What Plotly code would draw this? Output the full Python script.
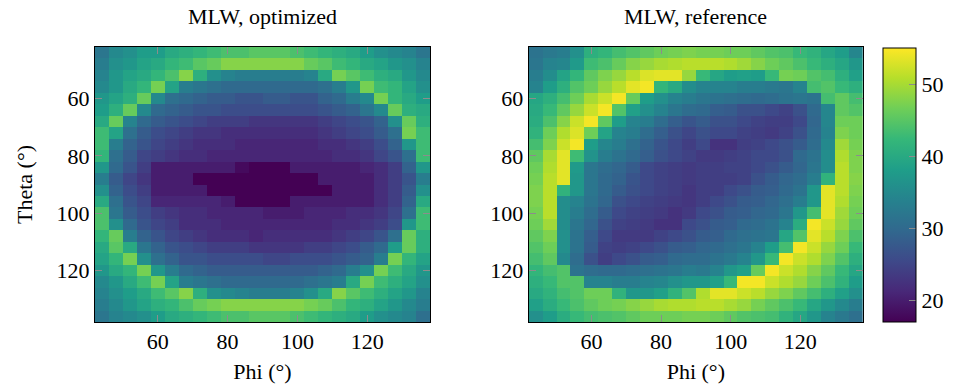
import plotly.graph_objects as go

# Cell centres (degrees)
phi = [44, 48, 52, 56, 60, 64, 68, 72, 76, 80, 84, 88,
       92, 96, 100, 104, 108, 112, 116, 120, 124, 128, 132, 136]
theta = [44, 48, 52, 56, 60, 64, 68, 72, 76, 80, 84, 88,
         92, 96, 100, 104, 108, 112, 116, 120, 124, 128, 132, 136]

tick_vals = [60, 80, 100, 120]
cbar_ticks = [20, 30, 40, 50]

# MLW for the optimized configuration (rows follow theta, columns follow phi)
mlw_optimized = [
    [32, 35, 36, 38, 38, 40, 41, 42, 43, 44, 44, 45, 45, 45, 44, 43, 42, 41, 40, 38, 36, 35, 34, 32],
    [33, 36, 37, 39, 40, 42, 43, 45, 46, 48, 48, 48, 48, 48, 48, 46, 45, 43, 42, 40, 39, 37, 36, 34],
    [34, 37, 39, 40, 42, 44, 48, 41, 36, 34, 33, 33, 33, 33, 33, 34, 40, 47, 45, 43, 41, 40, 37, 35],
    [35, 37, 40, 42, 47, 39, 33, 32, 31, 30, 30, 30, 30, 30, 30, 30, 31, 33, 37, 47, 43, 42, 39, 36],
    [37, 39, 41, 46, 35, 31, 30, 29, 28, 28, 27, 27, 28, 28, 27, 27, 29, 30, 33, 35, 47, 42, 40, 38],
    [38, 41, 46, 35, 30, 29, 28, 27, 27, 26, 26, 26, 26, 26, 26, 26, 27, 28, 29, 32, 35, 46, 41, 40],
    [40, 46, 34, 30, 28, 27, 26, 25, 24, 24, 24, 23, 23, 23, 23, 23, 24, 25, 26, 27, 29, 36, 46, 41],
    [43, 39, 31, 28, 26, 25, 24, 23, 23, 22, 22, 22, 22, 22, 22, 22, 23, 24, 25, 26, 28, 31, 47, 43],
    [43, 33, 29, 27, 25, 24, 23, 22, 22, 22, 21, 21, 21, 21, 21, 21, 22, 22, 23, 24, 26, 29, 37, 43],
    [42, 31, 28, 25, 24, 23, 22, 22, 21, 21, 21, 21, 21, 21, 21, 21, 21, 22, 22, 23, 25, 27, 31, 43],
    [37, 30, 27, 24, 20, 20, 20, 20, 20, 20, 18, 17, 17, 17, 20, 20, 20, 20, 20, 21, 22, 24, 29, 37],
    [33, 28, 25, 23, 20, 20, 20, 17, 17, 17, 17, 17, 17, 17, 17, 17, 20, 20, 20, 20, 22, 24, 27, 33],
    [36, 29, 26, 24, 20, 20, 20, 20, 17, 17, 17, 17, 17, 17, 17, 17, 17, 20, 20, 20, 22, 24, 28, 36],
    [40, 31, 27, 25, 21, 21, 21, 21, 21, 20, 17, 17, 17, 17, 20, 20, 20, 20, 20, 20, 22, 24, 29, 40],
    [44, 32, 28, 26, 24, 23, 22, 22, 21, 21, 21, 21, 20, 20, 20, 21, 21, 21, 22, 22, 23, 25, 31, 43],
    [44, 36, 30, 27, 25, 24, 22, 22, 22, 21, 21, 21, 21, 21, 21, 21, 21, 22, 22, 23, 24, 26, 37, 43],
    [42, 46, 33, 29, 27, 25, 24, 23, 22, 22, 22, 21, 22, 22, 22, 22, 22, 23, 24, 25, 27, 31, 46, 41],
    [40, 45, 40, 32, 29, 27, 26, 25, 24, 24, 24, 23, 23, 23, 23, 24, 24, 25, 26, 28, 30, 38, 46, 41],
    [39, 42, 47, 36, 31, 29, 27, 27, 26, 26, 26, 26, 25, 25, 26, 26, 26, 27, 28, 29, 33, 47, 42, 39],
    [37, 40, 42, 47, 37, 33, 30, 29, 28, 28, 28, 28, 28, 28, 28, 28, 29, 30, 33, 36, 47, 43, 40, 37],
    [35, 37, 40, 43, 47, 39, 33, 32, 31, 30, 30, 30, 30, 30, 30, 31, 32, 33, 40, 47, 43, 41, 39, 36],
    [34, 36, 38, 40, 43, 45, 48, 41, 36, 35, 34, 33, 33, 33, 34, 36, 40, 48, 45, 43, 41, 39, 37, 34],
    [33, 35, 37, 39, 41, 42, 44, 46, 47, 48, 48, 48, 48, 48, 48, 47, 46, 44, 42, 41, 39, 37, 35, 33],
    [32, 34, 35, 36, 38, 40, 41, 42, 43, 44, 44, 45, 45, 45, 44, 43, 42, 41, 40, 38, 36, 35, 34, 31],
]

# MLW for the reference configuration
mlw_reference = [
    [31.5, 32.5, 33, 36, 41, 42, 43.5, 44.5, 45.5, 46.5, 47, 47.5, 47, 47, 46.5, 46.5, 45.5, 44.5, 44, 42.5, 41.5, 39.5, 38, 34.5],
    [32, 34, 34.5, 37.5, 43, 44, 46, 48, 49, 50, 50.5, 51, 51, 51, 50.5, 49.5, 48, 46.5, 45.5, 44, 42.5, 41, 39.5, 37],
    [33, 35.5, 39, 42, 45.5, 47.5, 49, 51, 53, 53.5, 53.5, 49, 42.5, 39.5, 38, 38.5, 38, 42.5, 47, 46.5, 44.5, 43.5, 41, 38.5],
    [34, 38, 41, 44.5, 46.5, 49, 51, 53.5, 54.5, 42, 40, 35.5, 34, 34, 34, 33, 33, 32.5, 32, 34, 43.5, 44.5, 42.5, 41],
    [39.5, 41, 43.5, 46.5, 50, 52, 54.5, 46, 38, 36, 34, 33, 32, 31.5, 31, 30.5, 30, 30.5, 31.5, 32, 31.5, 43.5, 45.5, 43.5],
    [40, 42.5, 45.5, 49, 52, 54.5, 44.5, 38.5, 36, 34, 32, 30.5, 30, 28.5, 28, 26.5, 26.5, 25.5, 24.5, 26.5, 30, 34.5, 45.5, 44.5],
    [40.5, 44, 48, 52, 54.5, 45.5, 38, 34, 33, 30.5, 28.5, 27, 28, 26.5, 26.5, 25.5, 24.5, 24, 24, 25.5, 29.5, 34.5, 46.5, 46.5],
    [41.5, 46.5, 50.5, 53, 46.5, 39, 34, 33, 30.5, 28.5, 26.5, 25, 26.5, 25.5, 25.5, 24.5, 24, 23.5, 24.5, 26.5, 30, 34, 47.5, 46.5],
    [43.5, 47.5, 52, 54.5, 38, 34.5, 33, 31, 29, 27, 25.5, 24, 25.5, 22.5, 22.5, 24, 24.5, 25.5, 26.5, 28, 30.5, 35, 49.5, 47],
    [45.5, 50, 53.5, 43, 36.5, 33, 31.5, 30, 28.5, 26.5, 25.5, 24.5, 23.5, 23.5, 24, 24.5, 25.5, 25.5, 26.5, 30, 31.5, 35.5, 50.5, 47.5],
    [46.5, 50.5, 53.5, 37.5, 32, 30.5, 29.5, 28, 25.5, 24.5, 24, 23.5, 24, 24, 24.5, 24.5, 25.5, 26.5, 28, 29.5, 32, 35.5, 51, 47.5],
    [47, 51, 53.5, 37, 32, 30, 29, 27, 25.5, 24.5, 24, 23.5, 24, 24, 24, 24.5, 26.5, 28, 29.5, 30.5, 33, 41.5, 51, 48],
    [47.5, 51, 41.5, 37, 32, 30, 28, 26.5, 25.5, 24.5, 24, 23, 24, 24, 25.5, 26.5, 28, 28.5, 30, 31.5, 37, 53.5, 51, 47.5],
    [47.5, 51, 35.5, 34, 31.5, 29.5, 26.5, 25.5, 24.5, 24, 23.5, 23, 24, 25.5, 26.5, 28, 28.5, 29.5, 31, 33, 37, 53.5, 50.5, 47],
    [47, 51, 35.5, 33, 30.5, 28, 25.5, 24.5, 24, 23.5, 22.5, 23.5, 25.5, 26.5, 28, 28.5, 29.5, 30, 32, 37, 43.5, 53.5, 49.5, 46.5],
    [46.5, 49.5, 35.5, 32, 29.5, 26.5, 24.5, 24, 23.5, 22.5, 22.5, 25.5, 26.5, 28, 28.5, 30, 30.5, 31.5, 34, 40.5, 54.5, 52, 49, 45.5],
    [45.5, 47.5, 36, 31.5, 28.5, 25.5, 23.5, 23.5, 23.5, 24.5, 25.5, 26.5, 28, 28.5, 30, 31, 31.5, 32, 39.5, 44.5, 53.5, 51, 47.5, 44],
    [44.5, 46.5, 36, 31.5, 28, 24.5, 24, 24.5, 25.5, 26.5, 28, 28.5, 29.5, 30, 31, 32, 34, 38, 43.5, 54.5, 52, 49, 46.5, 42.5],
    [43.5, 45.5, 35, 30.5, 26.5, 24, 25.5, 26.5, 28, 28.5, 30, 30.5, 30.5, 31.5, 32.5, 34, 37, 42.5, 54.5, 52, 50.5, 47.5, 44.5, 41],
    [42, 43.5, 44.5, 31.5, 30.5, 30, 30, 30.5, 31, 31.5, 32, 33, 32.5, 34, 37, 38.5, 46, 54.5, 52, 50.5, 48, 45.5, 42.5, 39.5],
    [41, 42.5, 44.5, 44.5, 34, 34, 33, 33, 34, 34.5, 36, 37, 37, 38.5, 42.5, 54.5, 54.5, 52, 50.5, 49, 46.5, 44, 41.5, 38],
    [40, 41.5, 43.5, 44.5, 46.5, 46.5, 41.5, 37, 37, 38.5, 41.5, 44.5, 50.5, 53.5, 53.5, 52, 51, 49, 47.5, 45.5, 43.5, 41, 38.5, 36],
    [38.5, 40.5, 42.5, 44, 45.5, 46.5, 47, 48, 49, 50, 50.5, 50.5, 51, 51, 50, 49, 47, 45.5, 44, 42.5, 39.5, 37, 35, 33],
    [36, 38, 40.5, 42.5, 43.5, 44, 44.5, 45.5, 46.5, 46.5, 46.5, 47, 47, 46.5, 45.5, 44.5, 44, 43.5, 41.5, 39.5, 37, 34, 32.5, 31],
]

ZMIN, ZMAX = 17, 55
FONT = "Liberation Serif"
FS = 22
W, H = 958, 391

fig = go.Figure()
fig.add_trace(go.Heatmap(
    x=phi, y=theta, z=mlw_optimized, colorscale="Viridis",
    zmin=ZMIN, zmax=ZMAX, showscale=False, xaxis="x", yaxis="y",
))
fig.add_trace(go.Heatmap(
    x=phi, y=theta, z=mlw_reference, colorscale="Viridis",
    zmin=ZMIN, zmax=ZMAX, xaxis="x2", yaxis="y2",
    colorbar=dict(
        x=883 / W, xanchor="left", xpad=0,
        y=1 - 322 / H, yanchor="bottom", ypad=0,
        len=(322 - 48) / H, lenmode="fraction",
        thickness=33, outlinewidth=1, outlinecolor="black",
        tickvals=cbar_ticks, ticks="inside", ticklen=7,
        tickcolor="#8c8c8c", tickfont=dict(family=FONT, size=FS, color="black"),
    ),
))

y_dom = [1 - 322 / H, 1 - 47 / H]
axis_common = dict(
    tickvals=tick_vals, ticks="inside", ticklen=7, tickcolor="#8c8c8c",
    tickwidth=1, mirror="allticks", showline=True, linecolor="black",
    linewidth=1, showgrid=False, zeroline=False,
    tickfont=dict(family=FONT, size=FS, color="black"),
)

fig.update_layout(
    width=W, height=H,
    margin=dict(l=0, r=0, t=0, b=0),
    paper_bgcolor="white", plot_bgcolor="white",
    font=dict(family=FONT, color="black"),
    xaxis=dict(domain=[95 / W, 430 / W], range=[42, 138], anchor="y",
               title=dict(text="Phi (°)", font=dict(family=FONT, size=FS), standoff=10),
               **axis_common),
    yaxis=dict(domain=y_dom, range=[138, 42], anchor="x",
               title=dict(text="Theta (°)", font=dict(family=FONT, size=FS), standoff=17),
               **axis_common),
    xaxis2=dict(domain=[528.7 / W, 863 / W], range=[42, 138], anchor="y2",
                title=dict(text="Phi (°)", font=dict(family=FONT, size=FS), standoff=10),
                **axis_common),
    yaxis2=dict(domain=y_dom, range=[138, 42], anchor="x2", **axis_common),
    annotations=[
        dict(text="MLW, optimized", x=262.5 / W, y=1 - 16 / H, xref="paper", yref="paper",
             showarrow=False, xanchor="center", yanchor="middle",
             font=dict(family=FONT, size=FS, color="black")),
        dict(text="MLW, reference", x=695.8 / W, y=1 - 16 / H, xref="paper", yref="paper",
             showarrow=False, xanchor="center", yanchor="middle",
             font=dict(family=FONT, size=FS, color="black")),
    ],
)

fig.write_html("out.html")
